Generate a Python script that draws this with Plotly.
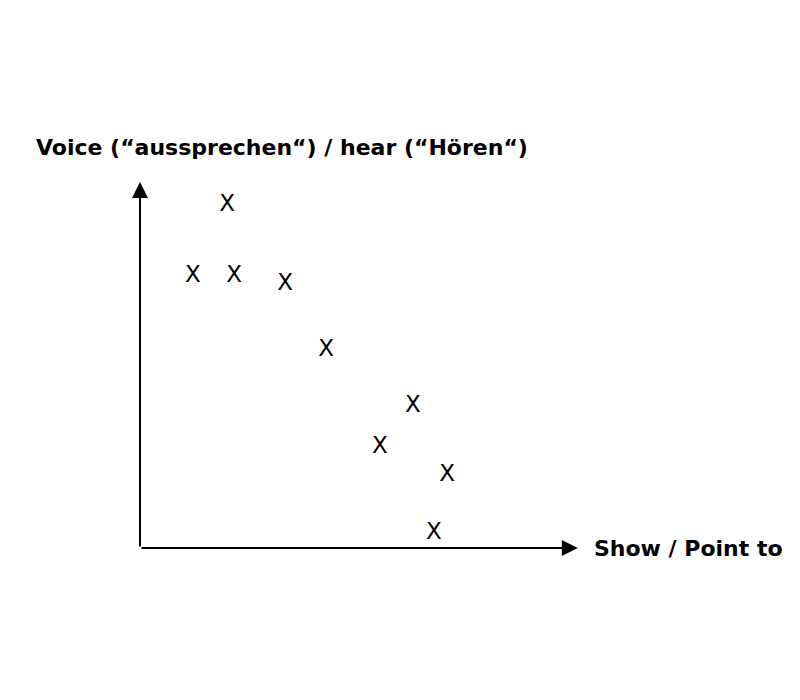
import plotly.graph_objects as go

# data (arbitrary units: x = show/point to, y = voice/hear)
x_vals = [1.98, 1.20, 2.14, 3.30, 4.23, 6.20, 5.45, 6.98, 6.68]
y_vals = [7.95, 6.30, 6.30, 6.12, 4.60, 3.30, 2.35, 1.70, 0.35]
marker_label = "X"
y_title = "Voice (“aussprechen“) / hear (“Hören“)"
x_title = "Show / Point to"

X_MAX = 9.95
Y_MAX = 8.5

fig = go.Figure()
fig.add_trace(go.Scatter(
    x=x_vals, y=y_vals, mode="text", text=[marker_label] * len(x_vals),
    textposition="middle center",
    textfont=dict(family="DejaVu Sans", size=23, color="black"),
    hoverinfo="skip", showlegend=False,
))

# axis arrows
fig.add_annotation(x=X_MAX, y=0, ax=0, ay=0, xref="x", yref="y", axref="x", ayref="y",
                   showarrow=True, arrowhead=2, arrowsize=1.6, arrowwidth=2, arrowcolor="black", text="")
fig.add_annotation(x=0, y=Y_MAX, ax=0, ay=0, xref="x", yref="y", axref="x", ayref="y",
                   showarrow=True, arrowhead=2, arrowsize=1.6, arrowwidth=2, arrowcolor="black", text="")

fig.add_annotation(x=X_MAX, y=0, xref="x", yref="y", text="<b>" + x_title + "</b>", showarrow=False,
                   xanchor="left", yanchor="middle", xshift=14,
                   font=dict(family="DejaVu Sans", size=22, color="black"))
fig.add_annotation(x=0, y=Y_MAX, xref="x", yref="y", text="<b>" + y_title + "</b>", showarrow=False,
                   xanchor="left", yanchor="bottom", xshift=-106, yshift=20,
                   font=dict(family="DejaVu Sans", size=22, color="black"))

fig.update_xaxes(range=[0, 10], visible=False)
fig.update_yaxes(range=[0, Y_MAX], visible=False)
fig.update_layout(
    width=800, height=700,
    margin=dict(l=140, r=220, t=182, b=152),
    paper_bgcolor="white", plot_bgcolor="white",
)
fig.write_html("out.html")
